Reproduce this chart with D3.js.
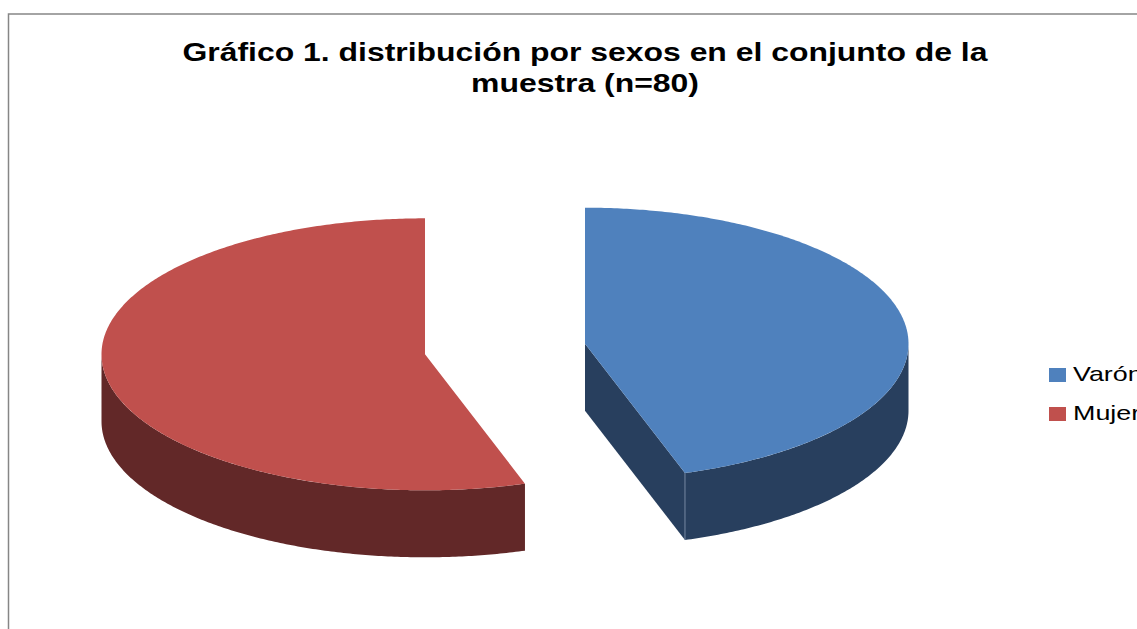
<!DOCTYPE html>
<html>
<head>
<meta charset="utf-8">
<script src="https://cdn.jsdelivr.net/npm/d3@7"></script>
<style>
  body { margin: 0; background: #fff; }
  svg { display: block; font-family: Arial, "Liberation Sans", sans-serif; }
</style>
</head>
<body>
<script>
var w = 1137;
var h = 629;

// data
var categories = ["Varón", "Mujer"];
var values = [36, 44];
var topColors = ["#4f81bd", "#c0504d"];
var sideColors = ["#283f5e", "#622828"];
var titleLines = ["Gráfico 1. distribución por sexos en el conjunto de la", "muestra (n=80)"];
var titleWidths = [805, 228];

var cx = 505, cy = 349;     // pie center
var rx = 323.5, ry = 136;   // ellipse radii
var depth = 67;
var explode = 81;
var stretch = 1.28;         // text in the original is drawn wide

var svg = d3.select("body")
  .append("svg")
  .attr("width", w)
  .attr("height", h);

// frame
svg.append("rect")
  .attr("x", 8.5).attr("y", 14)
  .attr("width", w + 20).attr("height", h + 20)
  .attr("fill", "none")
  .attr("stroke", "#868686")
  .attr("stroke-width", 1.5);

// title
svg.append("g")
  .selectAll("text")
  .data(titleLines)
  .enter()
  .append("text")
  .attr("x", function(d, i){ return 585 - titleWidths[i] / 2; })
  .attr("y", function(d, i){ return 61 + i * 31; })
  .attr("font-weight", "bold")
  .attr("font-size", 25)
  .attr("fill", "#000")
  .attr("textLength", function(d, i){ return titleWidths[i]; })
  .attr("lengthAdjust", "spacingAndGlyphs")
  .text(function(d){ return d; });

var pie = d3.pie().sort(null).value(function(d){ return d; });
var arcs = pie(values);

// point on the ellipse for angle t (0 = top, clockwise)
function pt(c, t, dz) {
  return [c[0] + rx * Math.sin(t), c[1] - ry * Math.cos(t) + (dz || 0)];
}

function centerOf(a) {
  var mid = (a.startAngle + a.endAngle) / 2;
  return [cx + explode * Math.sin(mid), cy - explode * (ry / rx) * Math.cos(mid)];
}

function sampleAngles(a0, a1) {
  var n = Math.max(2, Math.ceil((a1 - a0) / 0.01));
  return d3.range(n + 1).map(function(i){ return a0 + (a1 - a0) * i / n; });
}

var line = d3.line();
var sides = svg.append("g");
var tops = svg.append("g");

arcs.forEach(function(a, i) {
  var c = centerOf(a);

  // outer wall: only the front half of the ellipse shows
  var s = Math.max(a.startAngle, Math.PI / 2);
  var e = Math.min(a.endAngle, Math.PI * 1.5);
  if (e > s) {
    var ts = sampleAngles(s, e);
    var upper = ts.map(function(t){ return pt(c, t); });
    var lower = ts.slice().reverse().map(function(t){ return pt(c, t, depth); });
    sides.append("path")
      .attr("d", line(upper.concat(lower)) + "Z")
      .attr("fill", sideColors[i]);
  }

  // radial faces facing the viewer
  [[a.endAngle, Math.sin(a.endAngle)], [a.startAngle, -Math.sin(a.startAngle)]].forEach(function(f) {
    if (f[1] > 0.001) {
      var p = pt(c, f[0]);
      sides.append("path")
        .attr("d", line([c, p, [p[0], p[1] + depth], [c[0], c[1] + depth]]) + "Z")
        .attr("fill", sideColors[i]);
      sides.append("line")
        .attr("x1", p[0]).attr("y1", p[1])
        .attr("x2", p[0]).attr("y2", p[1] + depth)
        .attr("stroke", "#8a9cb4")
        .attr("stroke-width", 0.8);
    }
  });

  // top face
  var pts = [c].concat(sampleAngles(a.startAngle, a.endAngle).map(function(t){ return pt(c, t); }));
  tops.append("path")
    .attr("d", line(pts) + "Z")
    .attr("fill", topColors[i]);
});

// legend
var legend = svg.append("g")
  .attr("transform", "translate(1049,368)");

var item = legend.selectAll("g")
  .data(categories)
  .enter()
  .append("g")
  .attr("transform", function(d, i){ return "translate(0," + (i * 39) + ")"; });

item.append("rect")
  .attr("width", 17).attr("height", 14)
  .attr("fill", function(d, i){ return topColors[i]; });

item.append("text")
  .attr("transform", "translate(24,13) scale(" + stretch + ",1)")
  .attr("font-size", 21)
  .attr("fill", "#000")
  .text(function(d){ return d; });
</script>
</body>
</html>
